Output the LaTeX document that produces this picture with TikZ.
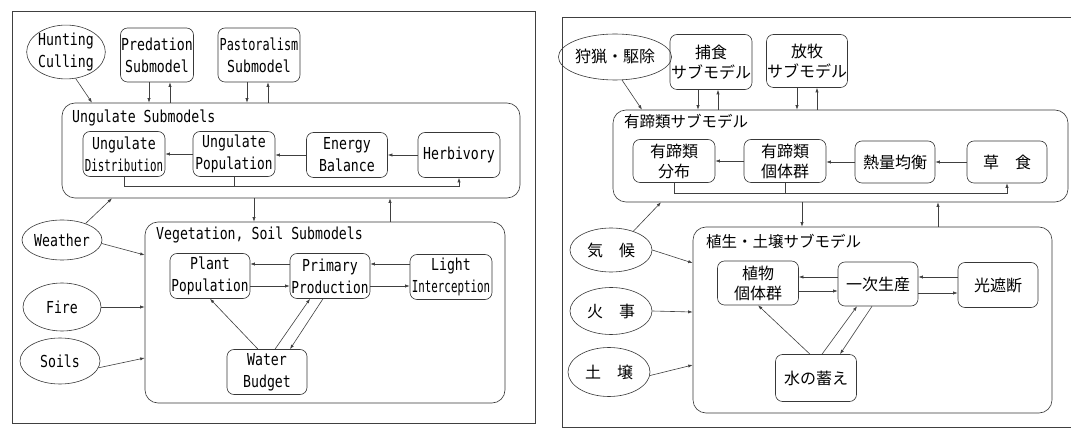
\documentclass[tikz,border=0pt]{standalone}
\usepackage{graphicx}
\usepackage{fontspec}
\newfontfamily\enf[FakeStretch=0.8]{DejaVu Sans Mono}
\newfontfamily\jaf{Noto Sans CJK JP}
\usetikzlibrary{shapes.geometric,arrows.meta}
\tikzset{
  ln/.style={draw=black!75, line width=0.6pt},
  arr/.style={ln, -{Latex[length=4.5pt,width=3.2pt]}},
  box/.style={draw=black!78, line width=0.6pt, rounded corners=7pt, inner sep=0pt, align=center},
  cont/.style={draw=black!78, line width=0.6pt, rounded corners=13pt, inner sep=0pt},
  ell/.style={ellipse, draw=black!78, line width=0.6pt, inner sep=0pt, align=center},
  en/.style={font=\enf\fontsize{16.5}{22}\selectfont},
  ja/.style={font=\jaf\fontsize{16}{20}\selectfont},
  jal/.style={font=\jaf\fontsize{15.5}{20}\selectfont},
  lab/.style={anchor=base west, inner sep=0pt},
  wh/.style 2 args={minimum width=#1pt, minimum height=#2pt}
}
\begin{document}
\begin{tikzpicture}[x=1pt,y=-1pt]
\useasboundingbox (0,0) rectangle (1071,430);
\fill[white] (0,0) rectangle (1071,430);

% ---------------- frames
\draw[ln] (12,11) rectangle (535,423);
\draw[ln] (1085,17) -- (562,17) -- (562,427) -- (1085,427);

% ================= LEFT (English)
\node[ell,en,wh={78}{45}] (hunt) at (66,52) {Hunting\\Culling};
\node[box,en,wh={73}{54}] (pred) at (157,55) {Predation\\Submodel};
\node[box,en,wh={82}{54}] (past) at (259,55) {\scalebox{0.9}[1]{Pastoralism}\\Submodel};

\node[cont,wh={458}{95}] (ungL) at (291,150.5) {};
\node[lab,en] (ungLt) at (72,123) {Ungulate Submodels};
\node[box,en,wh={82}{45}] (udist) at (124,154) {Ungulate\\\scalebox{0.82}[1]{Distribution}};
\node[box,en,wh={82}{45}] (upop) at (234,154) {Ungulate\\\scalebox{0.97}[1]{Population}};
\node[box,en,wh={81}{45}] (ebal) at (347,155) {Energy\\Balance};
\node[box,en,wh={82}{45}] (herb) at (459,155) {Herbivory};

\node[ell,en,wh={80}{40}] (weather) at (62,240) {Weather};
\node[ell,en,wh={78}{48}] (fire) at (62,307) {Fire};
\node[ell,en,wh={80}{46}] (soils) at (60,361) {Soils};

\node[cont,wh={360}{181}] (vegL) at (325,312.5) {};
\node[lab,en] (vegLt) at (156,240) {Vegetation, Soil Submodels};
\node[box,en,wh={80}{45}] (plant) at (210,276) {Plant\\\scalebox{0.97}[1]{Population}};
\node[box,en,wh={80}{45}] (prim) at (330,276) {Primary\\\scalebox{0.97}[1]{Production}};
\node[box,en,wh={82}{45}] (light) at (451,277) {Light\\\scalebox{0.82}[1]{Interception}};
\node[box,en,wh={80}{45}] (water) at (267,372) {Water\\Budget};

% helper x positions (left)
\coordinate (xh) at (92,0);
\coordinate (xp1) at (149,0);
\coordinate (xp2) at (170,0);
\coordinate (xq1) at (247,0);
\coordinate (xq2) at (268,0);
\coordinate (xd) at (254,0);
\coordinate (xu) at (390,0);
\coordinate (xw) at (112,0);
\coordinate (fbL) at (0,186);
\coordinate (yw) at (0,255);
\coordinate (ys) at (0,358);

\draw[arr] (hunt.-70) -- (ungL.north -| xh);
\draw[arr] (pred.south -| xp1) -- (ungL.north -| xp1);
\draw[arr] (ungL.north -| xp2) -- (pred.south -| xp2);
\draw[arr] (past.south -| xq1) -- (ungL.north -| xq1);
\draw[arr] (ungL.north -| xq2) -- (past.south -| xq2);

\draw[arr] (herb.west) -- (ebal.east);
\draw[arr] (ebal.west) -- (ebal.west -| upop.east);
\draw[arr] (upop.west) -- (upop.west -| udist.east);
\draw[arr] (udist.south) -- (udist.south |- fbL) -| (herb.south);
\draw[ln] (upop.south) -- (upop.south |- fbL);

\draw[arr] (ungL.south -| xd) -- (vegL.north -| xd);
\draw[arr] (vegL.north -| xu) -- (ungL.south -| xu);

\draw[arr] (weather.35) -- (ungL.south -| xw);
\draw[arr] (weather.-5) -- (vegL.west |- yw);
\draw[arr] (fire.east) -- (vegL.west |- fire.east);
\draw[arr] (soils.-10) -- (vegL.west |- ys);

\draw[arr] ([yshift=12pt]prim.west) -- ([yshift=12pt]prim.west -| plant.east);
\draw[arr] ([yshift=-10pt]plant.east) -- ([yshift=-10pt]plant.east -| prim.west);
\draw[arr] ([yshift=13pt]light.west) -- ([yshift=13pt]light.west -| prim.east);
\draw[arr] ([yshift=-10pt]prim.east) -- ([yshift=-10pt]prim.east -| light.west);
\draw[arr] ([xshift=-9pt]water.north) -- (plant.south);
\draw[arr] ([xshift=8pt]water.north) -- ([xshift=-20pt]prim.south);
\draw[arr] ([xshift=-7pt]prim.south) -- ([xshift=23pt]water.north);

% ================= RIGHT (Japanese)
\node[ell,ja,wh={84}{46}] (huntR) at (615,57) {狩猟・駆除};
\node[box,ja,wh={82}{55}] (predR) at (711,62) {捕食\\サブモデル};
\node[box,ja,wh={81}{53}] (pastR) at (807,61) {放牧\\サブモデル};

\node[cont,wh={455}{92}] (ungR) at (840.5,156) {};
\node[lab,jal] (ungRt) at (624,128) {有蹄類サブモデル};
\node[box,ja,wh={82}{43}] (udistR) at (674,161) {有蹄類\\分布};
\node[box,ja,wh={82}{43}] (upopR) at (785,161) {有蹄類\\個体群};
\node[box,ja,wh={80}{42}] (ebalR) at (895,162) {熱量均衡};
\node[box,ja,wh={80}{42}] (herbR) at (1007,162) {草　食};

\node[ell,ja,wh={82}{44}] (weatherR) at (611,250) {気　候};
\node[ell,ja,wh={82}{47}] (fireR) at (611,311) {火　事};
\node[ell,ja,wh={82}{49}] (soilsR) at (609,372) {土　壌};

\node[cont,wh={359}{186}] (vegR) at (872.5,320) {};
\node[lab,jal] (vegRt) at (706,248) {植生・土壌サブモデル};
\node[box,ja,wh={81}{44}] (plantR) at (758,283) {植物\\個体群};
\node[box,ja,wh={80}{44}] (primR) at (878,284) {一次生産};
\node[box,ja,wh={80}{45}] (lightR) at (998,285) {光遮断};
\node[box,ja,wh={81}{47}] (waterR) at (816,378) {水の蓄え};

% helper x positions (right)
\coordinate (rxh) at (642,0);
\coordinate (rxp1) at (698,0);
\coordinate (rxp2) at (718,0);
\coordinate (rxq1) at (797,0);
\coordinate (rxq2) at (817,0);
\coordinate (rxd) at (802,0);
\coordinate (rxu) at (938,0);
\coordinate (rxw) at (661,0);
\coordinate (fbR) at (0,193);
\coordinate (ryw) at (0,263);
\coordinate (ryf) at (0,312);
\coordinate (rys) at (0,365);

\draw[arr] (huntR.-73) -- (ungR.north -| rxh);
\draw[arr] (predR.south -| rxp1) -- (ungR.north -| rxp1);
\draw[arr] (ungR.north -| rxp2) -- (predR.south -| rxp2);
\draw[arr] (pastR.south -| rxq1) -- (ungR.north -| rxq1);
\draw[arr] (ungR.north -| rxq2) -- (pastR.south -| rxq2);

\draw[arr] (herbR.west) -- (ebalR.east);
\draw[arr] (ebalR.west) -- (ebalR.west -| upopR.east);
\draw[arr] (upopR.west) -- (upopR.west -| udistR.east);
\draw[arr] (udistR.south) -- (udistR.south |- fbR) -| (herbR.south);
\draw[ln] (upopR.south) -- (upopR.south |- fbR);

\draw[arr] (ungR.south -| rxd) -- (vegR.north -| rxd);
\draw[arr] (vegR.north -| rxu) -- (ungR.south -| rxu);

\draw[arr] (weatherR.40) -- (ungR.south -| rxw);
\draw[arr] (weatherR.east) -- (vegR.west |- ryw);
\draw[arr] (fireR.east) -- (vegR.west |- ryf);
\draw[arr] (soilsR.-5) -- (vegR.west |- rys);

\draw[arr] ([yshift=7pt]primR.west) -- ([yshift=7pt]primR.west -| plantR.east);
\draw[arr] ([yshift=-8pt]plantR.east) -- ([yshift=-8pt]plantR.east -| primR.west);
\draw[arr] ([yshift=8pt]lightR.west) -- ([yshift=8pt]lightR.west -| primR.east);
\draw[arr] ([yshift=-9pt]primR.east) -- ([yshift=-9pt]primR.east -| lightR.west);
\draw[arr] ([xshift=-6pt]waterR.north) -- (plantR.south);
\draw[arr] ([xshift=6pt]waterR.north) -- ([xshift=-21pt]primR.south);
\draw[arr] ([xshift=-6pt]primR.south) -- ([xshift=24pt]waterR.north);
\end{tikzpicture}
\end{document}
